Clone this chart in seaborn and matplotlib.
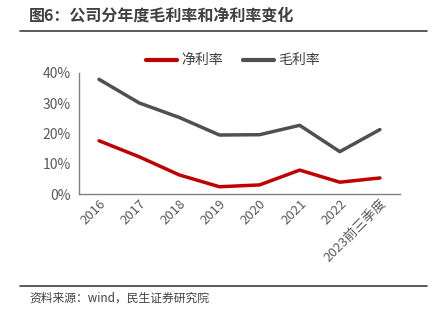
import matplotlib
matplotlib.use("Agg")
import matplotlib.pyplot as plt
import seaborn as sns
import pandas as pd
from matplotlib.ticker import PercentFormatter

categories = ["2016", "2017", "2018", "2019", "2020", "2021", "2022", "2023前三季度"]
net_margin = [17.6, 12.3, 6.3, 2.4, 3.0, 7.9, 3.9, 5.3]
gross_margin = [37.9, 30.1, 25.3, 19.5, 19.6, 22.7, 14.0, 21.3]
series_names = ["净利率", "毛利率"]
title = "图6：公司分年度毛利率和净利率变化"
source = "资料来源：wind，民生证券研究院"

sns.set_theme(style="white")
plt.rcParams['font.family'] = ['Noto Sans CJK SC', 'DejaVu Sans']

df = pd.DataFrame({
    "cat": categories * 2,
    "val": net_margin + gross_margin,
    "series": [series_names[0]] * len(categories) + [series_names[1]] * len(categories),
})

fig = plt.figure(figsize=(4.4, 3.34), dpi=100)
ax = fig.add_axes([79/440, 1 - 194/334, (400-79)/440, (194-73)/334])

sns.lineplot(data=df, x="cat", y="val", hue="series", sort=False,
             palette={series_names[0]: "#C00000", series_names[1]: "#505050"},
             linewidth=2.5, ax=ax, legend=True)

ax.set_xlim(-0.5, len(categories) - 0.5)
ax.set_ylim(0, 40)
ax.set_yticks([0, 10, 20, 30, 40])
ax.yaxis.set_major_formatter(PercentFormatter(decimals=0))
ax.set_xlabel("")
ax.set_ylabel("")
for s in ["top", "right"]:
    ax.spines[s].set_visible(False)
for s in ["left", "bottom"]:
    ax.spines[s].set_color("#808080")
    ax.spines[s].set_linewidth(1.0)
ax.tick_params(axis="y", labelsize=10, colors="#595959", length=3, width=0.8, pad=3)
ax.tick_params(axis="x", labelsize=9.5, colors="#595959", length=0, pad=2)
ax.tick_params(axis="y", color="#808080")
plt.setp(ax.get_xticklabels(), rotation=45, ha="right", rotation_mode="anchor")

leg = ax.legend(loc="upper center", bbox_to_anchor=(0.48, 1.265), ncol=2, frameon=False,
                fontsize=10, handlelength=2.2, columnspacing=1.5, handletextpad=0.3)
for t in leg.get_texts():
    t.set_color("#404040")
for l in leg.get_lines():
    l.set_linewidth(3)

fig.text(29/440, 1 - 16/334, title, fontsize=11.5, fontweight="bold", color="#404040", va="center")
fig.add_artist(plt.Line2D([20/440, 427/440], [1 - 31/334, 1 - 31/334], color="#404040", lw=1.2))
fig.add_artist(plt.Line2D([20/440, 427/440], [1 - 286/334, 1 - 286/334], color="#404040", lw=1.2))
fig.text(29/440, 1 - 298/334, source, fontsize=8.5, color="#404040", va="center")

fig.savefig("out.png", dpi=100)
